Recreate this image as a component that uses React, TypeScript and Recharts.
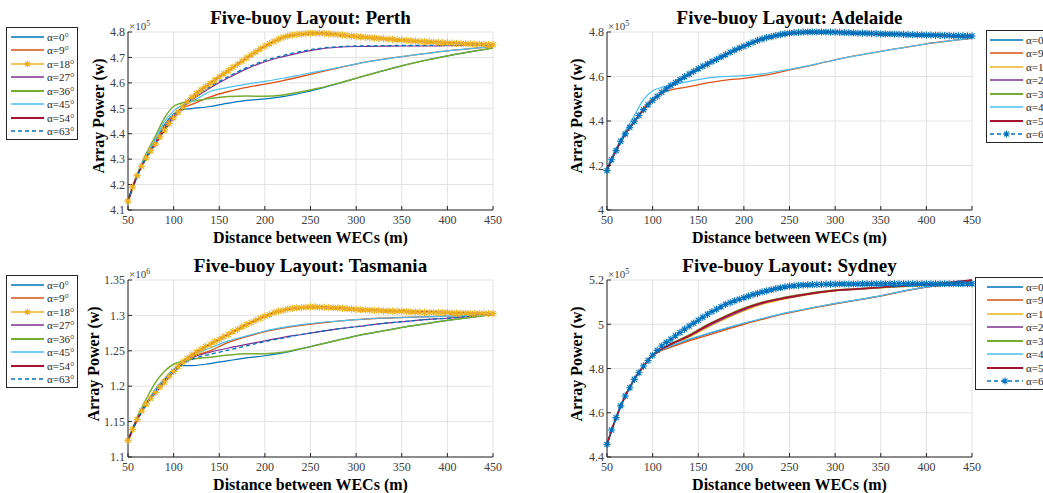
import { CartesianGrid, Line, LineChart, XAxis, YAxis } from "recharts";

const SERIF = '"Liberation Serif", "Times New Roman", serif';
const INK = "#262626";

// distances (m) at which the plain curves were read
const DIST = [50, 60, 70, 80, 90, 100, 110, 120, 140, 160, 180, 200, 220, 240, 260, 280, 300, 325, 350, 375, 400, 425, 450];
// finer grid used for the curves drawn with star markers
const DIST_FINE = [
  50, 55, 60, 65, 70, 75, 80, 85, 90, 95, 100, 105, 110, 115, 120, 125, 130, 135, 140, 145, 150, 155, 160, 165, 170,
  175, 180, 185, 190, 195, 200, 205, 210, 215, 220, 225, 230, 235, 240, 245, 250, 255, 260, 265, 270, 275, 280, 285,
  290, 295, 300, 305, 310, 315, 320, 325, 330, 335, 340, 345, 350, 355, 360, 365, 370, 375, 380, 385, 390, 395, 400,
  405, 410, 415, 420, 425, 430, 435, 440, 445, 450,
];
const X_TICKS = [50, 100, 150, 200, 250, 300, 350, 400, 450];
const ANGLES = ["α=0°", "α=9°", "α=18°", "α=27°", "α=36°", "α=45°", "α=54°", "α=63°"];

const COLORS = ["#0072BD", "#D95319", "#EDB120", "#7E2F8E", "#77AC30", "#4DBEEE", "#A2142F", "#0072BD"];
const WIDTHS = [1.2, 1.3, 1.3, 1.2, 1.5, 1.2, 1.8, 1.3];

// Perth, x10^5 W
const PERTH_0 = [4.135, 4.235, 4.31, 4.37, 4.436, 4.478, 4.495, 4.499, 4.507, 4.52, 4.531, 4.537, 4.546, 4.56, 4.577, 4.597, 4.618, 4.643, 4.667, 4.688, 4.706, 4.722, 4.737];
const PERTH_9 = [4.135, 4.234, 4.308, 4.365, 4.428, 4.472, 4.502, 4.515, 4.545, 4.566, 4.582, 4.595, 4.609, 4.625, 4.642, 4.658, 4.674, 4.69, 4.703, 4.715, 4.726, 4.735, 4.743];
const PERTH_18 = [
  4.135, 4.19, 4.235, 4.272, 4.305, 4.333, 4.36, 4.388, 4.415, 4.44, 4.463, 4.485, 4.505, 4.525, 4.543, 4.558, 4.572,
  4.585, 4.598, 4.61, 4.623, 4.636, 4.648, 4.661, 4.673, 4.686, 4.698, 4.71, 4.722, 4.734, 4.744, 4.754, 4.763, 4.772,
  4.779, 4.784, 4.788, 4.79, 4.792, 4.794, 4.795, 4.795, 4.795, 4.794, 4.793, 4.791, 4.79, 4.788, 4.786, 4.784, 4.782,
  4.781, 4.779, 4.778, 4.776, 4.775, 4.774, 4.772, 4.771, 4.769, 4.768, 4.767, 4.766, 4.764, 4.763, 4.762, 4.761, 4.76,
  4.759, 4.758, 4.757, 4.756, 4.755, 4.755, 4.754, 4.753, 4.752, 4.752, 4.751, 4.75, 4.75,
];
const PERTH_27 = [4.135, 4.234, 4.306, 4.362, 4.422, 4.468, 4.505, 4.533, 4.58, 4.62, 4.655, 4.683, 4.703, 4.72, 4.733, 4.74, 4.743, 4.744, 4.745, 4.745, 4.746, 4.747, 4.749];
const PERTH_36 = [4.135, 4.24, 4.322, 4.39, 4.462, 4.508, 4.522, 4.528, 4.538, 4.546, 4.548, 4.547, 4.552, 4.565, 4.58, 4.598, 4.618, 4.643, 4.667, 4.688, 4.706, 4.722, 4.737];
const PERTH_45 = [4.135, 4.238, 4.316, 4.38, 4.448, 4.49, 4.513, 4.527, 4.566, 4.582, 4.595, 4.606, 4.618, 4.632, 4.646, 4.66, 4.675, 4.69, 4.703, 4.715, 4.726, 4.735, 4.743];
const PERTH_54 = [4.135, 4.235, 4.305, 4.36, 4.415, 4.463, 4.505, 4.543, 4.598, 4.648, 4.698, 4.744, 4.779, 4.792, 4.795, 4.79, 4.782, 4.775, 4.768, 4.762, 4.757, 4.753, 4.75];
const PERTH_63 = [4.135, 4.232, 4.304, 4.36, 4.418, 4.466, 4.507, 4.537, 4.585, 4.625, 4.66, 4.688, 4.708, 4.724, 4.736, 4.742, 4.745, 4.746, 4.747, 4.747, 4.748, 4.749, 4.75];

// Adelaide, x10^5 W (0, 18, 27, 36, 54 deg sit under the starred 63 deg curve)
const ADL_UPPER = [4.18, 4.268, 4.342, 4.398, 4.45, 4.492, 4.528, 4.559, 4.61, 4.655, 4.697, 4.735, 4.768, 4.787, 4.797, 4.8, 4.799, 4.795, 4.792, 4.789, 4.786, 4.784, 4.782];
const ADL_9 = [4.19, 4.274, 4.343, 4.393, 4.457, 4.5, 4.526, 4.54, 4.554, 4.571, 4.584, 4.592, 4.604, 4.62, 4.638, 4.656, 4.675, 4.695, 4.713, 4.73, 4.747, 4.76, 4.772];
const ADL_45 = [4.19, 4.278, 4.354, 4.425, 4.496, 4.536, 4.551, 4.56, 4.578, 4.593, 4.6, 4.604, 4.612, 4.625, 4.64, 4.657, 4.675, 4.695, 4.713, 4.73, 4.747, 4.76, 4.772];
const ADL_63 = [
  4.177, 4.226, 4.267, 4.309, 4.342, 4.372, 4.399, 4.425, 4.451, 4.473, 4.493, 4.511, 4.529, 4.545, 4.56, 4.573, 4.586,
  4.599, 4.611, 4.623, 4.635, 4.646, 4.656, 4.667, 4.677, 4.688, 4.698, 4.709, 4.719, 4.728, 4.736, 4.745, 4.754, 4.762,
  4.769, 4.775, 4.779, 4.784, 4.788, 4.792, 4.795, 4.797, 4.798, 4.799, 4.8, 4.8, 4.8, 4.8, 4.8, 4.799, 4.799, 4.798,
  4.797, 4.797, 4.796, 4.795, 4.795, 4.794, 4.793, 4.793, 4.792, 4.791, 4.791, 4.79, 4.79, 4.789, 4.788, 4.788, 4.787,
  4.787, 4.786, 4.786, 4.785, 4.785, 4.784, 4.784, 4.783, 4.783, 4.783, 4.782, 4.782,
];

// Tasmania, x10^6 W
const TAS_0 = [1.1235, 1.153, 1.176, 1.195, 1.21, 1.221, 1.229, 1.229, 1.232, 1.236, 1.24, 1.243, 1.247, 1.253, 1.259, 1.265, 1.271, 1.277, 1.283, 1.288, 1.293, 1.297, 1.3015];
const TAS_9 = [1.1235, 1.152, 1.174, 1.192, 1.207, 1.22, 1.232, 1.241, 1.25, 1.262, 1.27, 1.277, 1.282, 1.286, 1.289, 1.292, 1.294, 1.296, 1.297, 1.298, 1.299, 1.3, 1.3015];
const TAS_18 = [
  1.1235, 1.139, 1.153, 1.165, 1.175, 1.183, 1.191, 1.199, 1.206, 1.214, 1.221, 1.228, 1.234, 1.239, 1.244, 1.248, 1.252,
  1.256, 1.259, 1.263, 1.266, 1.27, 1.273, 1.277, 1.28, 1.284, 1.287, 1.29, 1.293, 1.296, 1.299, 1.301, 1.304, 1.306,
  1.307, 1.309, 1.31, 1.3105, 1.311, 1.3115, 1.312, 1.312, 1.3115, 1.3112, 1.311, 1.3108, 1.3105, 1.31, 1.3095, 1.309,
  1.3085, 1.308, 1.3078, 1.3075, 1.307, 1.3068, 1.3065, 1.3062, 1.306, 1.306, 1.306, 1.3055, 1.305, 1.3048, 1.3045,
  1.3042, 1.304, 1.304, 1.304, 1.304, 1.304, 1.3035, 1.3032, 1.303, 1.303, 1.3028, 1.3027, 1.3026, 1.3025, 1.3025, 1.3025,
];
const TAS_27 = [1.1235, 1.152, 1.175, 1.194, 1.209, 1.222, 1.233, 1.24, 1.248, 1.254, 1.259, 1.264, 1.269, 1.273, 1.277, 1.281, 1.284, 1.288, 1.291, 1.294, 1.296, 1.299, 1.3015];
const TAS_36 = [1.1235, 1.156, 1.182, 1.205, 1.221, 1.231, 1.235, 1.238, 1.241, 1.244, 1.246, 1.246, 1.248, 1.253, 1.259, 1.265, 1.271, 1.277, 1.283, 1.288, 1.293, 1.297, 1.3015];
const TAS_45 = [1.1235, 1.153, 1.176, 1.196, 1.211, 1.224, 1.235, 1.243, 1.254, 1.264, 1.271, 1.278, 1.283, 1.287, 1.29, 1.292, 1.294, 1.296, 1.297, 1.298, 1.299, 1.3, 1.3015];
const TAS_54 = [1.1235, 1.153, 1.175, 1.191, 1.206, 1.221, 1.234, 1.244, 1.259, 1.273, 1.287, 1.299, 1.307, 1.311, 1.3115, 1.3105, 1.3085, 1.307, 1.306, 1.305, 1.304, 1.303, 1.3025];
const TAS_63 = [1.1235, 1.152, 1.174, 1.192, 1.207, 1.22, 1.231, 1.238, 1.245, 1.251, 1.257, 1.263, 1.268, 1.273, 1.277, 1.281, 1.284, 1.288, 1.291, 1.294, 1.296, 1.299, 1.3015];

// Sydney, x10^5 W
const SYD_0 = [4.457, 4.578, 4.676, 4.752, 4.81, 4.86, 4.884, 4.9, 4.93, 4.956, 4.98, 5.004, 5.025, 5.045, 5.062, 5.078, 5.093, 5.11, 5.128, 5.15, 5.168, 5.18, 5.19];
const SYD_9 = [4.457, 4.578, 4.676, 4.752, 4.81, 4.86, 4.882, 4.896, 4.925, 4.95, 4.975, 5.0, 5.022, 5.043, 5.06, 5.077, 5.092, 5.11, 5.128, 5.15, 5.168, 5.18, 5.19];
const SYD_18 = [4.457, 4.578, 4.676, 4.752, 4.81, 4.86, 4.886, 4.906, 4.942, 4.985, 5.025, 5.06, 5.09, 5.11, 5.126, 5.14, 5.15, 5.158, 5.165, 5.171, 5.177, 5.185, 5.195];
const SYD_27 = [4.457, 4.578, 4.676, 4.752, 4.81, 4.86, 4.887, 4.908, 4.946, 4.99, 5.03, 5.065, 5.094, 5.113, 5.128, 5.142, 5.152, 5.159, 5.166, 5.172, 5.178, 5.186, 5.196];
const SYD_36 = [4.457, 4.578, 4.676, 4.752, 4.81, 4.86, 4.889, 4.912, 4.952, 4.998, 5.038, 5.074, 5.1, 5.118, 5.133, 5.146, 5.155, 5.161, 5.166, 5.171, 5.177, 5.185, 5.195];
const SYD_45 = [4.457, 4.578, 4.676, 4.752, 4.81, 4.86, 4.885, 4.902, 4.933, 4.958, 4.982, 5.005, 5.026, 5.046, 5.063, 5.079, 5.094, 5.111, 5.129, 5.151, 5.169, 5.181, 5.191];
const SYD_54 = [4.457, 4.578, 4.676, 4.752, 4.81, 4.86, 4.888, 4.91, 4.948, 4.995, 5.035, 5.07, 5.097, 5.115, 5.13, 5.143, 5.153, 5.16, 5.167, 5.174, 5.18, 5.188, 5.2];
const SYD_63 = [
  4.457, 4.522, 4.578, 4.631, 4.676, 4.713, 4.751, 4.781, 4.811, 4.836, 4.86, 4.882, 4.902, 4.918, 4.932, 4.948, 4.963,
  4.978, 4.992, 5.005, 5.018, 5.032, 5.045, 5.057, 5.068, 5.079, 5.09, 5.098, 5.106, 5.113, 5.12, 5.127, 5.134, 5.14,
  5.146, 5.151, 5.156, 5.161, 5.165, 5.169, 5.172, 5.174, 5.176, 5.177, 5.178, 5.179, 5.18, 5.18, 5.181, 5.181, 5.181,
  5.182, 5.182, 5.182, 5.182, 5.182, 5.183, 5.183, 5.183, 5.183, 5.183, 5.183, 5.183, 5.183, 5.183, 5.183, 5.183, 5.183,
  5.183, 5.183, 5.183, 5.183, 5.183, 5.183, 5.183, 5.183, 5.183, 5.183, 5.183, 5.183, 5.183,
];

const PANELS = [
  {
    title: "Five-buoy Layout: Perth", exp: "5", left: 128, top: 32, h: 178,
    yDomain: [4.1, 4.8], yTicks: [4.1, 4.2, 4.3, 4.4, 4.5, 4.6, 4.7, 4.8],
    series: [PERTH_0, PERTH_9, PERTH_18, PERTH_27, PERTH_36, PERTH_45, PERTH_54, PERTH_63], star: 2,
    legend: { left: 6, top: 27, pad: 4, sample: 33 }, yLabelX: 99,
  },
  {
    title: "Five-buoy Layout: Adelaide", exp: "5", left: 607, top: 32, h: 178,
    yDomain: [4, 4.8], yTicks: [4, 4.2, 4.4, 4.6, 4.8],
    series: [ADL_UPPER, ADL_9, ADL_UPPER, ADL_UPPER, ADL_UPPER, ADL_45, ADL_UPPER, ADL_63], star: 7,
    legend: { left: 986, top: 30, pad: 3, sample: 33 }, yLabelX: 577,
  },
  {
    title: "Five-buoy Layout: Tasmania", exp: "6", left: 128, top: 280, h: 177,
    yDomain: [1.1, 1.35], yTicks: [1.1, 1.15, 1.2, 1.25, 1.3, 1.35],
    series: [TAS_0, TAS_9, TAS_18, TAS_27, TAS_36, TAS_45, TAS_54, TAS_63], star: 2,
    legend: { left: 6, top: 275, pad: 4, sample: 33 }, yLabelX: 94,
  },
  {
    title: "Five-buoy Layout: Sydney", exp: "5", left: 607, top: 280, h: 177,
    yDomain: [4.4, 5.2], yTicks: [4.4, 4.6, 4.8, 5, 5.2],
    series: [SYD_0, SYD_9, SYD_18, SYD_27, SYD_36, SYD_45, SYD_54, SYD_63], star: 7,
    legend: { left: 975, top: 277, pad: 11, sample: 36 }, yLabelX: 577,
  },
];

const PLOT_W = 365;
const PAD_L = 45;
const PAD_T = 12;
const PAD_R = 12;
const PAD_B = 30;

const starPath = (cx: number, cy: number, r: number) => {
  const d = r * 0.72;
  return `M${cx - r},${cy}H${cx + r}M${cx},${cy - r}V${cy + r}M${cx - d},${cy - d}L${cx + d},${cy + d}M${cx - d},${cy + d}L${cx + d},${cy - d}`;
};

const starDot = (color: string) => (props: any) => {
  const { cx, cy, index } = props;
  if (cx == null || cy == null) return <g key={`s${index}`} />;
  return <path key={`s${index}`} d={starPath(cx, cy, 3.6)} stroke={color} strokeWidth={1.1} fill="none" />;
};

function buildRows(series: number[][]) {
  return DIST_FINE.map((x, k) => {
    const row: Record<string, number> = { x };
    series.forEach((arr, i) => {
      if (arr.length === DIST_FINE.length) row[`s${i}`] = arr[k];
      else {
        const j = DIST.indexOf(x);
        if (j >= 0) row[`s${i}`] = arr[j];
      }
    });
    return row;
  });
}

function AngleLegend({ left, top, pad, sample, star }: any) {
  return (
    <div style={{ position: "absolute", left, top, width: 72, height: 113, border: `1px solid ${INK}`, background: "#fff", boxSizing: "border-box" }}>
      {ANGLES.map((label, i) => (
        <div key={label} style={{ position: "absolute", left: pad, top: 2 + i * 13.5, height: 13, display: "flex", alignItems: "center" }}>
          <svg width={sample} height={10} style={{ display: "block" }}>
            <line x1={0} x2={sample} y1={5} y2={5} stroke={COLORS[i]} strokeWidth={WIDTHS[i] + 0.3} strokeDasharray={i === 7 ? "4 3" : undefined} />
            {i === star && <path d={starPath(sample / 2, 5, 3.4)} stroke={COLORS[i]} strokeWidth={1.1} fill="none" />}
          </svg>
          <span style={{ marginLeft: 3, fontFamily: SERIF, fontSize: 11, color: INK, whiteSpace: "nowrap" }}>{label}</span>
        </div>
      ))}
    </div>
  );
}

const tickStyle = { fontFamily: SERIF, fontSize: 12, fill: "#404040" };
const noTick = () => <g />;

function Panel({ p }: { p: (typeof PANELS)[number] }) {
  const rows = buildRows(p.series);
  return (
    <>
      <div style={{ position: "absolute", left: p.left - 60, width: PLOT_W + 120, top: p.top - 24, textAlign: "center", fontFamily: SERIF, fontWeight: "bold", fontSize: 19, lineHeight: "20px", color: "#000" }}>
        {p.title}
      </div>
      <div style={{ position: "absolute", left: p.left + 1, top: p.top - 14, fontFamily: SERIF, fontSize: 11, color: "#404040", lineHeight: "12px" }}>
        ×10<sup style={{ fontSize: 8, verticalAlign: "4px" }}>{p.exp}</sup>
      </div>
      <div style={{ position: "absolute", left: p.left - 40, width: PLOT_W + 80, top: p.top + p.h + 19, textAlign: "center", fontFamily: SERIF, fontWeight: "bold", fontSize: 16, lineHeight: "18px", color: "#000" }}>
        Distance between WECs (m)
      </div>
      <div style={{ position: "absolute", left: p.yLabelX, top: p.top + p.h / 2 - 5, transform: "translate(-50%, -50%) rotate(-90deg)", fontFamily: SERIF, fontWeight: "bold", fontSize: 16, lineHeight: "16px", whiteSpace: "nowrap", color: "#000" }}>
        Array Power (w)
      </div>
      <div style={{ position: "absolute", left: p.left - PAD_L, top: p.top - PAD_T }}>
        <LineChart width={PAD_L + PLOT_W + PAD_R} height={PAD_T + p.h + PAD_B} data={rows} margin={{ top: PAD_T, right: PAD_R, left: 0, bottom: 0 }}>
          <CartesianGrid stroke="#e2e2e2" />
          <XAxis dataKey="x" type="number" domain={[50, 450]} ticks={X_TICKS} height={PAD_B} tickSize={-4} tickMargin={9} tick={tickStyle} stroke={INK} axisLine={{ stroke: INK }} tickLine={{ stroke: INK }} interval={0} />
          <XAxis xAxisId="top" orientation="top" dataKey="x" type="number" domain={[50, 450]} ticks={X_TICKS} height={0} tickSize={-4} tick={noTick} axisLine={{ stroke: INK }} tickLine={{ stroke: INK }} interval={0} />
          <YAxis type="number" domain={p.yDomain} ticks={p.yTicks} width={PAD_L} tickSize={-4} tickMargin={7} tick={tickStyle} axisLine={{ stroke: INK }} tickLine={{ stroke: INK }} interval={0} />
          <YAxis yAxisId="right" orientation="right" type="number" domain={p.yDomain} ticks={p.yTicks} width={0} tickSize={-4} tick={noTick} axisLine={{ stroke: INK }} tickLine={{ stroke: INK }} interval={0} />
          {p.series.map((_, i) => (
            <Line
              key={i}
              dataKey={`s${i}`}
              type="monotone"
              stroke={COLORS[i]}
              strokeWidth={WIDTHS[i]}
              strokeDasharray={i === 7 ? "4 3" : undefined}
              dot={i === p.star ? starDot(COLORS[i]) : false}
              activeDot={false}
              connectNulls
              isAnimationActive={false}
            />
          ))}
        </LineChart>
      </div>
      <AngleLegend {...p.legend} star={p.star} />
    </>
  );
}

export default function App() {
  return (
    <div style={{ position: "absolute", left: 0, top: 0, width: 1043, height: 493, overflow: "hidden", background: "#fff" }}>
      {PANELS.map((p) => (
        <Panel key={p.title} p={p} />
      ))}
    </div>
  );
}
